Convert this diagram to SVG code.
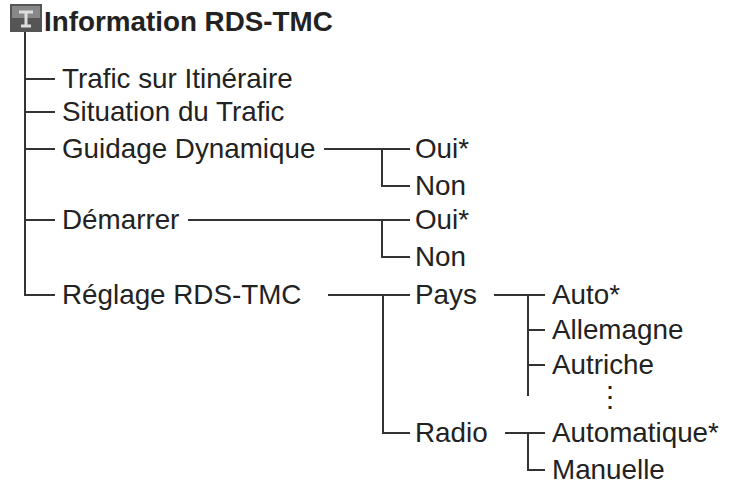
<svg xmlns="http://www.w3.org/2000/svg" width="737" height="487" viewBox="0 0 737 487">
<style>
text{font-family:"Liberation Sans",Arial,sans-serif;font-size:27.8px;fill:#222}
.t{font-weight:bold;font-size:27.8px}
.c line{stroke:#333;stroke-width:2}
</style>
<rect width="737" height="487" fill="#fff"/>
<g id="icon"><rect x="10" y="4" width="32" height="28" fill="#555"/><rect x="12" y="6" width="28" height="12" fill="#888"/><path d="M19 12h14M26 12v14M21 26h10" stroke="#ddd" stroke-width="3" fill="none"/></g>
<g id="title"><text class="t" x="44" y="31">Information RDS-TMC</text></g>
<g class="c" id="connectors">
<line x1="25" y1="32" x2="25" y2="296" stroke-width="3"/>
<line x1="25" y1="79" x2="55" y2="79" stroke-width="3"/>
<line x1="25" y1="112" x2="55" y2="112"/>
<line x1="25" y1="149" x2="55" y2="149"/>
<line x1="25" y1="220" x2="55" y2="220"/>
<line x1="24" y1="295" x2="55" y2="295"/>
<line x1="324" y1="149" x2="410" y2="149"/>
<line x1="382" y1="149" x2="382" y2="187"/>
<line x1="381" y1="186" x2="410" y2="186"/>
<line x1="188" y1="220" x2="410" y2="220"/>
<line x1="382" y1="220" x2="382" y2="258"/>
<line x1="381" y1="257" x2="410" y2="257"/>
<line x1="328" y1="295" x2="410" y2="295"/>
<line x1="383" y1="295" x2="383" y2="434"/>
<line x1="382" y1="433" x2="410" y2="433"/>
<line x1="494" y1="295" x2="545" y2="295"/>
<line x1="528" y1="295" x2="528" y2="396"/>
<line x1="528" y1="330" x2="545" y2="330"/>
<line x1="528" y1="365" x2="545" y2="365" stroke-width="3"/>
<line x1="505" y1="433" x2="545" y2="433"/>
<line x1="528" y1="433" x2="528" y2="471"/>
<line x1="527" y1="470" x2="545" y2="470"/>
</g>
<g id="n1"><text x="62" y="88">Trafic sur Itinéraire</text></g>
<g id="n2"><text x="62" y="121">Situation du Trafic</text></g>
<g id="n3"><text x="62" y="158">Guidage Dynamique</text></g>
<g id="n4"><text x="415" y="158">Oui*</text></g>
<g id="n5"><text x="415" y="195">Non</text></g>
<g id="n6"><text x="62" y="229">Démarrer</text></g>
<g id="n7"><text x="415" y="229">Oui*</text></g>
<g id="n8"><text x="415" y="266">Non</text></g>
<g id="n9"><text x="62" y="304">Réglage RDS-TMC</text></g>
<g id="n10"><text x="415" y="304">Pays</text></g>
<g id="n11"><text x="552" y="304">Auto*</text></g>
<g id="n12"><text x="552" y="339">Allemagne</text></g>
<g id="n13"><text x="552" y="374">Autriche</text></g>
<g id="dots"><text x="596" y="406">⋮</text></g>
<g id="n14"><text x="415" y="442">Radio</text></g>
<g id="n15"><text x="552" y="442">Automatique*</text></g>
<g id="n16"><text x="552" y="479">Manuelle</text></g>
</svg>
